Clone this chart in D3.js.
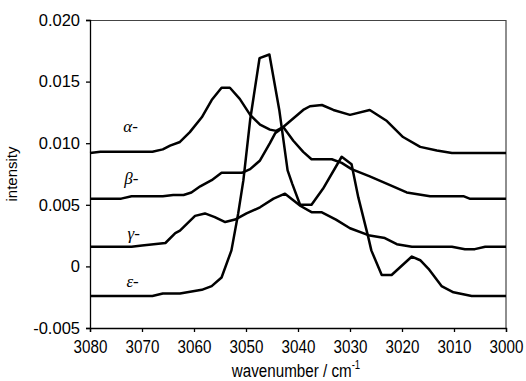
<!DOCTYPE html>
<html>
<head>
<meta charset="utf-8">
<script src="https://cdn.jsdelivr.net/npm/d3@7"></script>
<style>
  body { margin: 0; background: #fff; }
  .y-axis .tick text { font-family: "Liberation Sans", Arial, sans-serif; font-size: 16.5px; fill: #000; }
  .x-axis .tick text { font-family: "Liberation Sans", Arial, sans-serif; font-size: 19px; fill: #000; }
  .axis-title { font-family: "Liberation Sans", Arial, sans-serif; fill: #000; }
  .series-label { font-family: "Liberation Serif", "Times New Roman", serif; font-style: italic; font-size: 17px; fill: #000; }
</style>
</head>
<body>
<div id="chart"></div>
<script>
// tick values
const xTicks = [3080, 3070, 3060, 3050, 3040, 3030, 3020, 3010, 3000];
const yTicks = [-0.005, 0, 0.005, 0.010, 0.015, 0.020];
const yTickLabels = ["-0.005", "0", "0.005", "0.010", "0.015", "0.020"];

// series (wavenumber / cm-1, intensity)
const alphaWn = [3080, 3078, 3068, 3066, 3064.6, 3062.7, 3060.8, 3058.5, 3056.6, 3054.7, 3053.1, 3051.2, 3049.2, 3047.3, 3045.4, 3044.2, 3042.9, 3039.0, 3037.7, 3035.4, 3033.2, 3030.0, 3026.2, 3022.9, 3019.8, 3016.5, 3013.3, 3010.4, 3000];
const alphaY = [0.0092, 0.0093, 0.0093, 0.0095, 0.0098, 0.0101, 0.0109, 0.0121, 0.0135, 0.0145, 0.0145, 0.0136, 0.0123, 0.0115, 0.0111, 0.0110, 0.0113, 0.0127, 0.0130, 0.0131, 0.0127, 0.0123, 0.0127, 0.0118, 0.0105, 0.0097, 0.0094, 0.0092, 0.0092];

const betaWn = [3080, 3074, 3072, 3066, 3064, 3062, 3060.5, 3058.8, 3056.6, 3054.7, 3050.8, 3049.2, 3047.3, 3045.4, 3044.4, 3042.8, 3040.9, 3039.0, 3037.4, 3033.5, 3031.6, 3029.7, 3026.2, 3022.3, 3019.1, 3014.6, 3008.2, 3007, 3000];
const betaY = [0.0055, 0.0055, 0.0057, 0.0057, 0.0058, 0.0058, 0.0060, 0.0065, 0.0070, 0.0076, 0.0076, 0.0079, 0.0086, 0.0100, 0.0108, 0.0113, 0.0102, 0.0093, 0.0087, 0.0087, 0.0084, 0.0079, 0.0073, 0.0066, 0.0060, 0.0057, 0.0057, 0.0055, 0.0055];

const gammaWn = [3080, 3072, 3070, 3065.5, 3063.6, 3062.7, 3059.8, 3057.9, 3056, 3054, 3052.1, 3049.9, 3047.3, 3044.7, 3042.5, 3039.5, 3037.4, 3035.5, 3032.7, 3030, 3026.2, 3023.3, 3021, 3018.1, 3010.4, 3007.9, 3006, 3004, 3000];
const gammaY = [0.0016, 0.0016, 0.0017, 0.0019, 0.0027, 0.0029, 0.0041, 0.0043, 0.0040, 0.0036, 0.0038, 0.0043, 0.0048, 0.0055, 0.0059, 0.0049, 0.0044, 0.0044, 0.0038, 0.0031, 0.0025, 0.0023, 0.0018, 0.0016, 0.0016, 0.0014, 0.0014, 0.0016, 0.0016];

const epsilonWn = [3080, 3068, 3066, 3062.7, 3058.5, 3056.6, 3054.7, 3052.8, 3051.5, 3050.5, 3049.2, 3047.4, 3045.5, 3043.6, 3042, 3041.1, 3039.6, 3037.4, 3035.2, 3031.6, 3029.7, 3028.4, 3026.5, 3025.9, 3023.9, 3022, 3018.1, 3016.5, 3014.9, 3012.4, 3010.1, 3006.6, 3000];
const epsilonY = [-0.0024, -0.0024, -0.0022, -0.0022, -0.0019, -0.0016, -0.0009, 0.0013, 0.0043, 0.0070, 0.0119, 0.0169, 0.0172, 0.0127, 0.0078, 0.0067, 0.0050, 0.0050, 0.0063, 0.0089, 0.0083, 0.0056, 0.0024, 0.0013, -0.0007, -0.0007, 0.0008, 0.0005, -0.0002, -0.0016, -0.0021, -0.0024, -0.0024];

const seriesNames = ["\u03b1-", "\u03b2-", "\u03b3-", "\u03b5-"];
const seriesWn = [alphaWn, betaWn, gammaWn, epsilonWn];
const seriesY = [alphaY, betaY, gammaY, epsilonY];
// where each name sits (wavenumber, intensity)
const labelWn = [3073.6, 3073.4, 3072.8, 3073.0];
const labelY = [0.0109, 0.00667, 0.00225, -0.00168];

const width = 526, height = 381;
const margin = {top: 20, right: 20, bottom: 53, left: 90};
const mainWidth = width - margin.left - margin.right;
const mainHeight = height - margin.top - margin.bottom;
const squeeze = 0.8; // x-axis text is drawn narrow in the original

const svg = d3.select("#chart").append("svg")
    .attr("width", width)
    .attr("height", height);

const mainChart = svg.append("g")
    .attr("transform", `translate(${margin.left} ${margin.top})`);

const x = d3.scaleLinear()
    .domain([3080, 3000])
    .range([0, mainWidth]);

const y = d3.scaleLinear()
    .domain([-0.005, 0.020])
    .range([mainHeight, 0]);

// frame top and right
mainChart.append("path")
    .attr("d", `M0,0.5H${mainWidth}V${mainHeight}`)
    .attr("fill", "none")
    .attr("stroke", "#444")
    .attr("stroke-width", 1.2);

const xAxis = mainChart.append("g")
    .attr("class", "x-axis")
    .attr("transform", `translate(0 ${mainHeight})`)
    .call(d3.axisBottom(x).tickValues(xTicks).tickFormat(d3.format("d")).tickSize(4));

xAxis.selectAll(".tick text")
    .attr("y", 25)
    .attr("dy", 0)
    .attr("transform", `scale(${squeeze} 1)`);

const yAxis = mainChart.append("g")
    .attr("class", "y-axis")
    .call(d3.axisLeft(y).tickValues(yTicks).tickFormat((d, i) => yTickLabels[i]).tickSize(4).tickPadding(6));

[xAxis, yAxis].forEach(a => {
    a.select(".domain").attr("stroke", "#000").attr("stroke-width", 1.3);
    a.selectAll(".tick line").attr("stroke", "#000").attr("stroke-width", 1.3);
});

const line = d3.line()
    .x(d => x(d[0]))
    .y(d => y(d[1]));

mainChart.selectAll(".curve")
    .data(seriesNames.map((n, i) => seriesWn[i].map((w, j) => [w, seriesY[i][j]])))
    .join("path")
    .attr("class", "curve")
    .attr("d", line)
    .attr("fill", "none")
    .attr("stroke", "#000")
    .attr("stroke-width", 2.5)
    .attr("stroke-linejoin", "round");

mainChart.selectAll(".series-label")
    .data(seriesNames)
    .join("text")
    .attr("class", "series-label")
    .attr("x", (d, i) => x(labelWn[i]))
    .attr("y", (d, i) => y(labelY[i]))
    .text(d => d);

const xTitle = svg.append("text")
    .attr("class", "axis-title")
    .attr("transform", `translate(${margin.left + mainWidth / 2 - 2} 377) scale(${squeeze} 1)`)
    .attr("text-anchor", "middle")
    .style("font-size", "19px")
    .text("wavenumber / cm");
xTitle.append("tspan")
    .attr("dy", -8)
    .style("font-size", "12px")
    .text("-1");

svg.append("text")
    .attr("class", "axis-title")
    .attr("transform", `translate(17 ${margin.top + mainHeight / 2}) rotate(-90)`)
    .attr("text-anchor", "middle")
    .style("font-size", "15px")
    .text("intensity");
</script>
</body>
</html>
